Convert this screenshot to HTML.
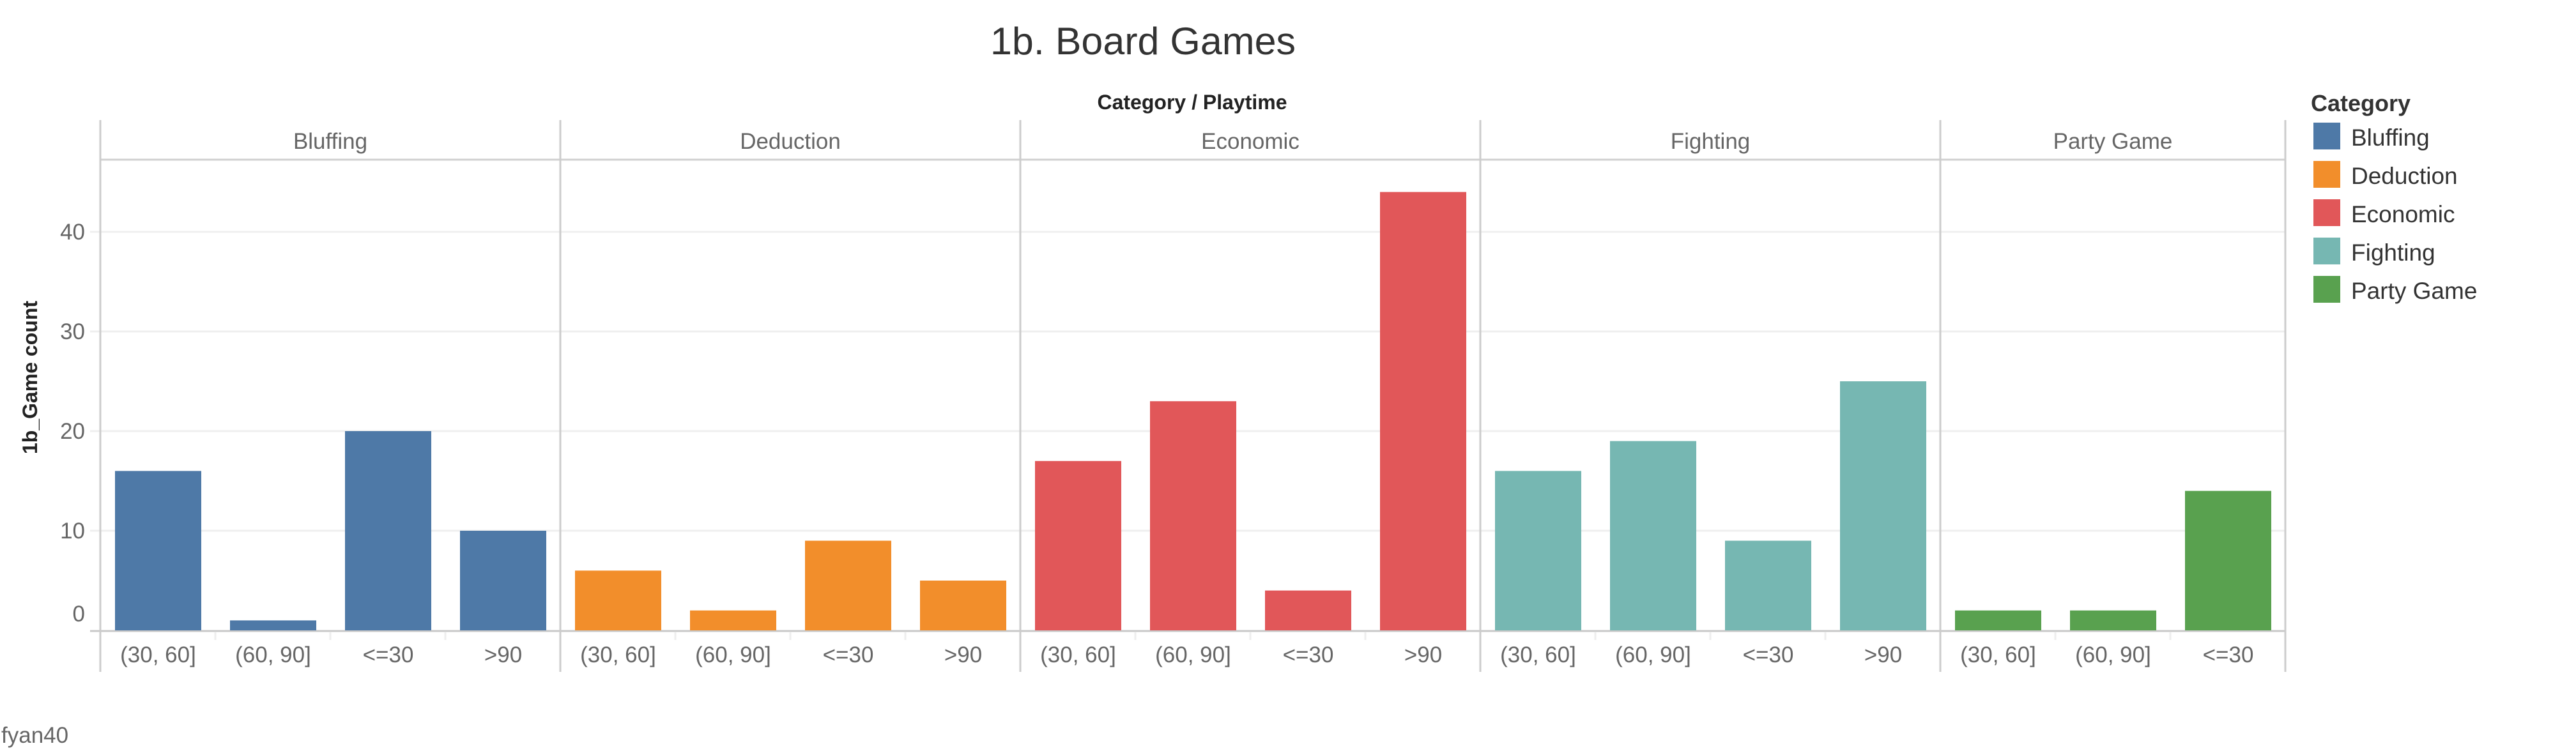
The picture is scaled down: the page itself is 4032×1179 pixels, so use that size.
<!DOCTYPE html>
<html><head><meta charset="utf-8"><style>
html,body{margin:0;padding:0;background:#fff;}
svg{display:block;font-family:"Liberation Sans",sans-serif;}
</style></head><body>
<svg id="chart" width="4032" height="1179" viewBox="0 0 4032 1179" xmlns="http://www.w3.org/2000/svg">
<text x="1789" y="85" font-size="60" fill="#333" text-anchor="middle" textLength="478" lengthAdjust="spacingAndGlyphs" font-weight="300">1b. Board Games</text>
<text x="1866" y="171" font-size="32" fill="#222" font-weight="bold" text-anchor="middle">Category / Playtime</text>
<text transform="translate(58,591) rotate(-90)" font-size="32" fill="#222" font-weight="bold" text-anchor="middle">1b_Game count</text>
<text x="2" y="1163" font-size="35" fill="#666">fyan40</text>
<g id="grid"></g><g id="panes"></g><g id="bars"></g><g id="legend"></g>
</svg>
<script>
const categories = ["Bluffing","Deduction","Economic","Fighting","Party Game"];
const colors = ["#4e79a7","#f28e2b","#e15759","#76b7b2","#59a14f"];
const playtimes = [
  ["(30, 60]","(60, 90]","<=30",">90"],
  ["(30, 60]","(60, 90]","<=30",">90"],
  ["(30, 60]","(60, 90]","<=30",">90"],
  ["(30, 60]","(60, 90]","<=30",">90"],
  ["(30, 60]","(60, 90]","<=30"]
];
const bluffing = [16,1,20,10];
const deduction = [6,2,9,5];
const economic = [17,23,4,44];
const fighting = [16,19,9,25];
const partyGame = [2,2,14];
const yTicks = [0,10,20,30,40];

const seriesValues = [bluffing,deduction,economic,fighting,partyGame];
const NS="http://www.w3.org/2000/svg";
const x0=157, slot=180, barW=135, barOff=23;
const y0=987, pxPerUnit=15.6;
function yScale(v){return y0 - v*pxPerUnit;}
function mk(tag,attrs,parent){const e=document.createElementNS(NS,tag);for(const k in attrs)e.setAttribute(k,attrs[k]);parent.appendChild(e);return e;}
const grid=document.getElementById('grid'), panes=document.getElementById('panes'), bars=document.getElementById('bars'), legend=document.getElementById('legend');
let paneStarts=[];let cur=x0;
playtimes.forEach(p=>{paneStarts.push(cur);cur+=p.length*slot;});
const xEnd=cur;
yTicks.forEach(t=>{
  const y=yScale(t);
  if(t>0){const l=mk('line',{x1:141,x2:xEnd,y1:y,y2:y,stroke:'#efefef','stroke-width':3},grid);
  
  }
  const tx=mk('text',{x:133,y:(t===0? y-14 : y+12),'font-size':35,fill:'#666','text-anchor':'end'},grid);
  tx.textContent=t;
  
  
});
// axis line
const ax=mk('line',{x1:141,x2:xEnd,y1:y0+1,y2:y0+1,stroke:'#c8c8c8','stroke-width':3},panes);


const hl=mk('line',{x1:x0,x2:xEnd,y1:250,y2:250,stroke:'#d0d0d0','stroke-width':3},panes);


paneStarts.concat([xEnd]).forEach((x,i)=>{
  const l=mk('line',{x1:x,x2:x,y1:188,y2:1052,stroke:'#cccccc','stroke-width':3},panes);
  
  
});
categories.forEach((c,i)=>{
  const ps=paneStarts[i], n=playtimes[i].length;
  const h=mk('text',{x:ps+n*slot/2,y:233,'font-size':35,fill:'#666','text-anchor':'middle'},panes);
  h.textContent=c;
  
  
  playtimes[i].forEach((p,j)=>{
    const v=seriesValues[i][j];
    const r=mk('rect',{x:ps+j*slot+barOff,y:yScale(v),width:barW,height:v*pxPerUnit,fill:colors[i]},bars);
    
    
    const t=mk('text',{x:ps+j*slot+barOff+barW/2,y:1037,'font-size':35,fill:'#666','text-anchor':'middle'},bars);
    t.textContent=p;
    
    
    if(j>0){const tk=mk('line',{x1:ps+j*slot,x2:ps+j*slot,y1:990,y2:1002,stroke:'#eeeeee','stroke-width':3},bars);
    
    }
  });
});
const lt=mk('text',{x:3617,y:174,'font-size':36,fill:'#333','font-weight':'bold'},legend);
lt.textContent='Category';


categories.forEach((c,i)=>{
  const g=mk('g',{},legend);
  
  
  mk('rect',{x:3621,y:192+i*60,width:42,height:42,fill:colors[i]},g);
  const t=mk('text',{x:3680,y:228+i*60,'font-size':37,fill:'#333'},g);
  t.textContent=c;
});
</script>
</body></html>
